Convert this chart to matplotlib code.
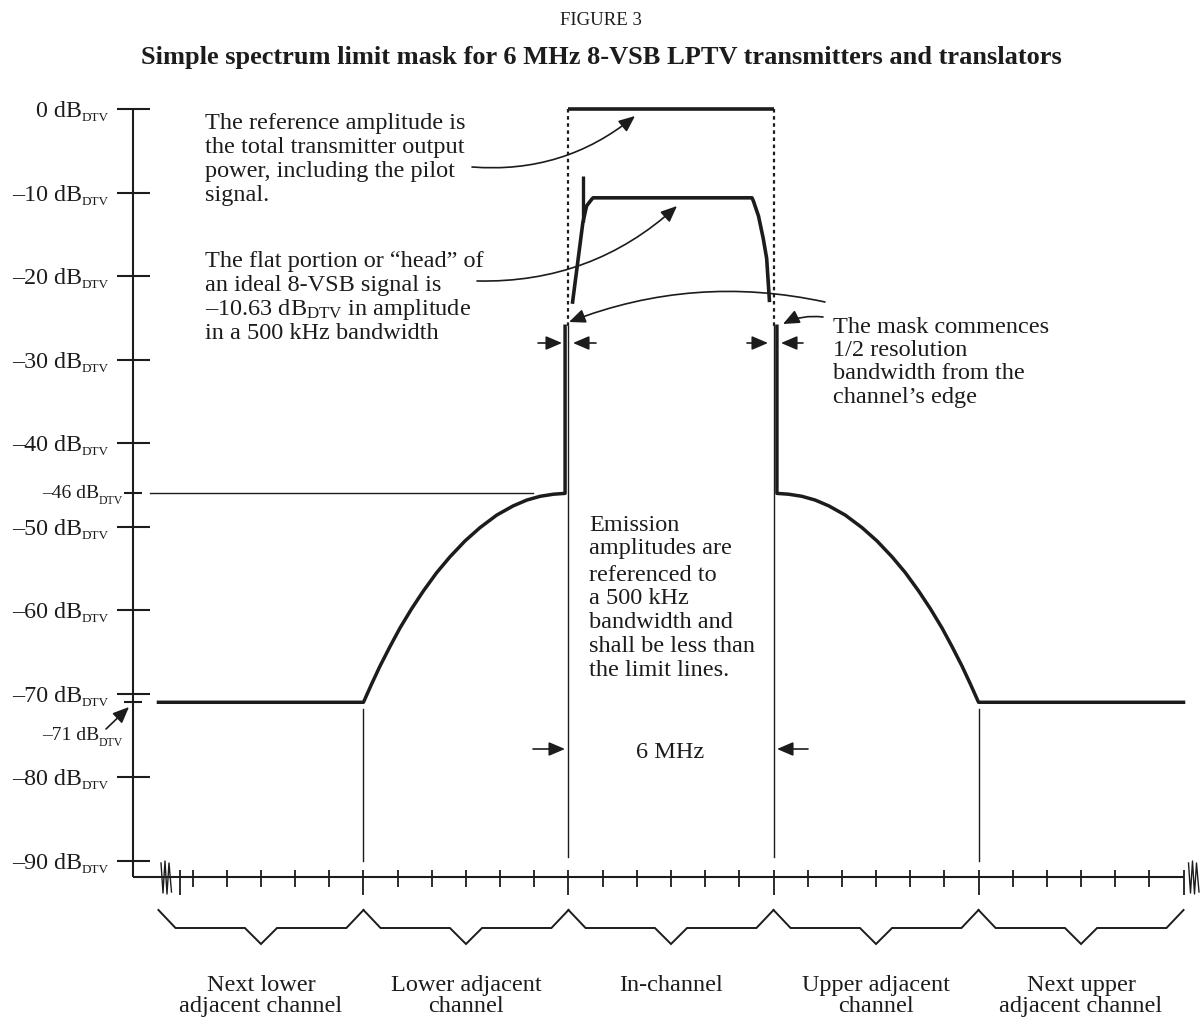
import matplotlib
matplotlib.use('Agg')
import matplotlib.pyplot as plt

plt.rcParams['font.family'] = ['Liberation Serif', 'DejaVu Serif']
plt.rcParams['mathtext.fontset'] = 'custom'
plt.rcParams['mathtext.rm'] = 'Liberation Serif'
plt.rcParams['mathtext.it'] = 'Liberation Serif:italic'

# ---------------- data ----------------
y_ticks_db = [0, -10, -20, -30, -40, -50, -60, -70, -80, -90]
y_tick_labels = ['0 dB', '–10 dB', '–20 dB', '–30 dB', '–40 dB', '–50 dB',
                 '–60 dB', '–70 dB', '–80 dB', '–90 dB']
ref_ticks_db = [-46, -71]
ref_tick_labels = ['–46 dB', '–71 dB']

mhz_ticks = [-14, -13, -12, -11, -10, -8, -7, -6, -5, -4, -2, -1, 0, 1, 2,
             4, 5, 6, 7, 8, 10, 11, 12, 13, 14]
long_ticks = [-14.37, -9, -3, 3, 9, 15]
channel_edges = [-15, -9, -3, 3, 9, 15]
channel_centers = [-12, -6, 0, 6, 12]
channel_names = [['Next lower', 'adjacent channel'],
                 ['Lower adjacent', 'channel'],
                 ['In-channel'],
                 ['Upper adjacent', 'channel'],
                 ['Next upper', 'adjacent channel']]

# limit mask: distance from channel centre (MHz) and level (dB), same on both sides
mask_offset = [15.0, 9.0, 8.76, 8.52, 8.22, 7.93, 7.59, 7.25, 6.86, 6.47, 6.03,
               5.59, 5.10, 4.62, 4.22, 3.83, 3.44, 3.10, 3.10]
mask_db = [-71.0, -71.0, -68.8, -66.7, -64.3, -62.1, -59.8, -57.7, -55.5, -53.6,
           -51.7, -50.1, -48.6, -47.5, -46.8, -46.35, -46.1, -46.0, -26.0]

# ideal 8-VSB signal ("head")
head_mhz = [-2.88, -2.58, -2.47, -2.32, -2.28, 2.37, 2.41, 2.56, 2.70, 2.80, 2.88]
head_db = [-23.1, -13.6, -11.6, -10.8, -10.63, -10.63, -11.0, -12.8, -15.5, -17.9, -22.9]
pilot_mhz = -2.58
pilot_db = [-8.06, -13.56]

ref_level_db = 0
channel_half_width = 3.0
x_axis_db = -91.9
mask_top_db = -26.0

# ---------------- layout helpers ----------------
W, H = 1203, 1020
X0, SX, Y0, SY = 671.0, 34.17, 110.0, 8.356


def D(px, py):
    return ((px - X0) / SX, -(py - Y0) / SY)


def mx(px):
    return (px - X0) / SX


def my(py):
    return -(py - Y0) / SY


fig = plt.figure(figsize=(W / 100, H / 100), dpi=100)
ax = fig.add_axes([0, 0, 1, 1])
ax.set_xlim(mx(0), mx(W))
ax.set_ylim(my(H), my(0))
ax.axis('off')

INK = '#1c1c1c'
FS = 17.5

# ---------------- y axis ----------------
yaxis_x = mx(133)
ax.plot([yaxis_x, yaxis_x], [ref_level_db, x_axis_db], color=INK, lw=1.5,
        solid_capstyle='butt')
for v, lab in zip(y_ticks_db, y_tick_labels):
    ax.plot([mx(117), mx(150)], [v, v], color=INK, lw=1.5, solid_capstyle='butt')
    ax.text(mx(82), v - 7 / SY, lab, ha='right', va='baseline', fontsize=17.3,
            color=INK)
    ax.text(mx(82), v - 11 / SY, 'DTV', ha='left', va='baseline', fontsize=9.5,
            color=INK)
for v, lab in zip(ref_ticks_db, ref_tick_labels):
    ax.plot([mx(124), mx(142)], [v, v], color=INK, lw=1.5, solid_capstyle='butt')
    off = 4 if v == -46 else 37
    ax.text(mx(99), v - off / SY, lab, ha='right', va='baseline', fontsize=14,
            color=INK)
    ax.text(mx(99), v - (off + 6) / SY, 'DTV', ha='left', va='baseline',
            fontsize=8.5, color=INK)

# -46 reference line
ax.plot([mx(150), mx(533)], [ref_ticks_db[0]] * 2, color=INK, lw=1.0)
# -71 arrow
ax.annotate('', xy=D(129, 708), xytext=D(106, 730),
            arrowprops=dict(arrowstyle='-|>,head_length=0.7,head_width=0.3',
                            lw=1.2, color=INK, shrinkA=0, shrinkB=0,
                            mutation_scale=14))

# ---------------- x axis ----------------
ax.plot([yaxis_x, channel_edges[-1]], [x_axis_db] * 2, color=INK, lw=1.5,
        solid_capstyle='butt')
for t in mhz_ticks:
    ax.plot([t, t], [my(871), my(888)], color=INK, lw=1.3, solid_capstyle='butt')
for t in long_ticks:
    ax.plot([t, t], [my(871), my(896)], color=INK, lw=1.3, solid_capstyle='butt')
# axis breaks (zig-zag)
for cpx in (166.5, 1194):
    zx = [cpx - 5.5, cpx - 3.5, cpx - 1.5, cpx + 0.5, cpx + 2.5, cpx + 5]
    zy = [864, 894, 862, 895, 864, 893]
    ax.plot([mx(a) for a in zx], [my(b) for b in zy], color=INK, lw=1.0)

# channel boundary lines
for e in (channel_edges[1], channel_edges[4]):
    ax.plot([e, e], [my(710), -90], color=INK, lw=1.0)
for e in (-channel_half_width, channel_half_width):
    ax.plot([e, e], [mask_top_db, my(858)], color=INK, lw=1.0)
    ax.plot([e, e], [ref_level_db, mask_top_db], color=INK, lw=1.6,
            linestyle=(0, (1.6, 1.6)))

# braces
for i, c in enumerate(channel_centers):
    l, r = channel_edges[i], channel_edges[i + 1]
    yt, ym, yv = my(911), my(929), my(945)
    bx = [l, l + 0.5, c - 0.47, c, c + 0.47, r - 0.5, r]
    by = [yt, ym, ym, yv, ym, ym, yt]
    ax.plot(bx, by, color=INK, lw=1.4, solid_joinstyle='miter')
    names = channel_names[i]
    for k, nm in enumerate(names):
        ax.text(c, my(991 + 21.5 * k), nm, ha='center', va='baseline',
                fontsize=FS, color=INK)

# ---------------- mask, reference, head ----------------
ax.plot([-o for o in mask_offset], mask_db, color=INK, lw=2.5,
        solid_joinstyle='round')
ax.plot(mask_offset, mask_db, color=INK, lw=2.5, solid_joinstyle='round')
ax.plot([-channel_half_width, channel_half_width], [ref_level_db] * 2, color=INK,
        lw=2.6, solid_capstyle='butt')
ax.plot(head_mhz, head_db, color=INK, lw=2.6, solid_joinstyle='round')
ax.plot([pilot_mhz, pilot_mhz], pilot_db, color=INK, lw=2.4, solid_capstyle='butt')

# ---------------- annotations ----------------
def arrow(p0, p1, rad=0.0):
    ax.annotate('', xy=D(*p1), xytext=D(*p0),
                arrowprops=dict(arrowstyle='-|>,head_length=0.7,head_width=0.3',
                                connectionstyle='arc3,rad=%s' % rad, lw=1.2,
                                color=INK, shrinkA=0, shrinkB=0,
                                mutation_scale=14))


arrow((472, 168), (635, 117), 0.2)
arrow((477, 282), (677, 207), 0.2)
arrow((825, 303), (569, 323), 0.15)
arrow((823, 318), (783, 325), 0.15)
for a, b in [((538, 344), (562, 344)), ((596, 344), (573, 344)),
             ((747, 344), (768, 344)), ((803, 344), (781, 344)),
             ((533, 750), (565, 750)), ((808, 750), (777, 750))]:
    arrow(a, b)


def block(px, baselines, lines, ha='left'):
    for b, t in zip(baselines, lines):
        ax.text(mx(px), my(b), t, ha=ha, va='baseline', fontsize=FS, color=INK)


block(205, [129, 153, 177, 201],
      ['The reference amplitude is', 'the total transmitter output',
       'power, including the pilot', 'signal.'])
block(205, [267, 291.5, 315, 339],
      ['The flat portion or “head” of', 'an ideal 8-VSB signal is',
       r'–10.63 dB$_{\mathrm{DTV}}$ in amplitude', 'in a 500 kHz bandwidth'])
block(833, [333, 356, 379.5, 403],
      ['The mask commences', '1/2 resolution', 'bandwidth from the',
       'channel’s edge'])
block(589, [531, 554, 581, 604, 628, 652, 676],
      ['Emission', 'amplitudes are', 'referenced to', 'a 500 kHz',
       'bandwidth and', 'shall be less than', 'the limit lines.'])
block(670, [758], ['6 MHz'], ha='center')

# ---------------- titles ----------------
ax.text(mx(601), my(25), 'FIGURE 3', ha='center', va='baseline', fontsize=13.5,
        color=INK)
ax.text(mx(601), my(64),
        'Simple spectrum limit mask for 6 MHz 8-VSB LPTV transmitters and translators',
        ha='center', va='baseline', fontsize=19, fontweight='bold', color=INK)

fig.savefig('out.png', dpi=100)
